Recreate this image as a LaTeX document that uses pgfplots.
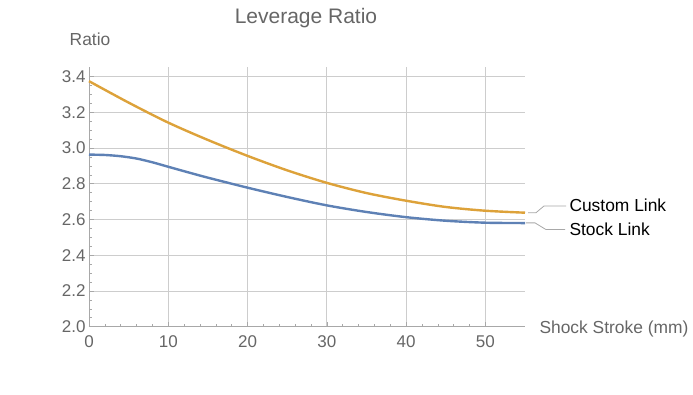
\documentclass[border=0pt]{standalone}
\usepackage{pgfplots}
\pgfplotsset{compat=1.18}
\usepackage{fontspec}
\setmainfont{Liberation Sans}
\definecolor{mmayellow}{HTML}{DDA23A}
\definecolor{mmablue}{HTML}{5E81B5}
\definecolor{gridgrey}{HTML}{CDCDCD}
\definecolor{axisgrey}{HTML}{A8A8A8}
\definecolor{textgrey}{HTML}{666666}
\begin{document}
\begin{tikzpicture}[x=1pt,y=1pt]
\path[use as bounding box] (-89,-67.3) rectangle (604,326.7);
\begin{axis}[
  at={(0,0)}, anchor=south west,
  scale only axis, width=436pt, height=260pt,
  xmin=0, xmax=55, ymin=2.0, ymax=3.455,
  axis lines=left, axis line style={axisgrey, line width=0.8pt, -},
  xtick={0,10,20,30,40,50}, ytick={2.0,2.2,...,3.4},
  minor x tick num=4, minor y tick num=3,
  yticklabel style={/pgf/number format/fixed, /pgf/number format/fixed zerofill, /pgf/number format/precision=1},
  /pgf/number format/assume math mode=true,
  ticklabel style={font=\fontsize{17}{20}\selectfont, text=textgrey},
  xticklabel style={yshift=-5pt},
  tick style={axisgrey, line width=0.6pt},
  major tick length=5pt, minor tick length=3pt,
  tick align=inside,
  grid=major, major grid style={gridgrey, line width=0.9pt},
  clip=false,
]
\addplot[mmablue, line width=2.4pt, smooth] coordinates {
(0,2.963) (2,2.961) (4,2.954) (6,2.941) (8,2.920) (10,2.895) (12.5,2.864) (15,2.834) (20,2.778) (25,2.726) (30,2.679) (35,2.642) (40,2.613) (45,2.593) (50,2.582) (55,2.580)};
\addplot[mmayellow, line width=2.4pt, smooth] coordinates {
(0,3.374) (5,3.254) (10,3.142) (15,3.045) (20,2.956) (25,2.875) (30,2.805) (35,2.748) (40,2.705) (45,2.670) (50,2.649) (55,2.638)};
\draw[axisgrey, line width=0.8pt] ([xshift=3pt]axis cs:55,2.638) -- ++(8pt,0pt) -- ++(8pt,6.7pt) -- ++(22pt,0pt);
\draw[axisgrey, line width=0.8pt] ([xshift=1pt]axis cs:55,2.581) -- ++(9pt,0pt) -- ++(11pt,-6.7pt) -- ++(19pt,0pt);
\end{axis}
\node[anchor=base west, font=\fontsize{17.4}{20}\selectfont, inner sep=0pt] at (480.3,115) {Custom Link};
\node[anchor=base west, font=\fontsize{17.4}{20}\selectfont, inner sep=0pt] at (480.3,91) {Stock Link};
\node[anchor=base west, font=\fontsize{17.4}{20}\selectfont, text=textgrey, inner sep=0pt] at (450.3,-6.6) {Shock Stroke (mm)};
\node[anchor=base, font=\fontsize{17.4}{20}\selectfont, text=textgrey, inner sep=0pt] at (1,281.3) {Ratio};
\node[anchor=base, font=\fontsize{21}{24}\selectfont, text=textgrey, inner sep=0pt] at (217,303.4) {Leverage Ratio};
\end{tikzpicture}
\end{document}
